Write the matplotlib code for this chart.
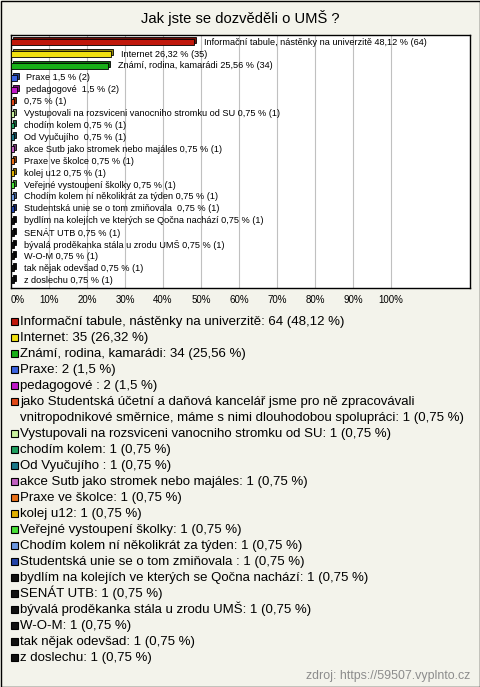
import matplotlib.pyplot as plt
from matplotlib.patches import Rectangle
import matplotlib.colors as mcolors
import numpy as np

plt.rcParams['font.family'] = ['Liberation Sans', 'DejaVu Sans']

# data
title = 'Jak jste se dozvěděli o UMŠ ?'
names = ['Informační tabule, nástěnky na univerzitě', 'Internet', 'Známí, rodina, kamarádi',
         'Praxe', 'pedagogové ',
         'jako Studentská účetní a daňová kancelář jsme pro ně zpracovávali\n'
         'vnitropodnikové směrnice, máme s nimi dlouhodobou spolupráci',
         'Vystupovali na rozsviceni vanocniho stromku od SU', 'chodím kolem', 'Od Vyučujího ',
         'akce Sutb jako stromek nebo majáles', 'Praxe ve školce', 'kolej u12',
         'Veřejné vystoupení školky', 'Chodím kolem ní několikrát za týden',
         'Studentská unie se o tom zmiňovala ', 'bydlím na kolejích ve kterých se Qočna nachází',
         'SENÁT UTB', 'bývalá proděkanka stála u zrodu UMŠ', 'W-O-M', 'tak nějak odevšad',
         'z doslechu']
# the chart leaves out the long name of item 6
chart_names = names[:5] + [''] + names[6:]
counts = [64, 35, 34, 2, 2] + [1] * 16
pcts = [48.12, 26.32, 25.56, 1.5, 1.5] + [0.75] * 16
colors = ['#c0180c', '#f0e010', '#18b018', '#3c64e0', '#c018c8', '#e04818', '#c8f09c',
          '#20a060', '#1c7888', '#c060c0', '#e87018', '#e0b000', '#48e038', '#6c98e0',
          '#2444a8'] + ['#101010'] * 6
ticks = [0, 10, 20, 30, 40, 50, 60, 70, 80, 90, 100]
source = 'zdroj: https://59507.vyplnto.cz'


def fmt(v):
    return ('%g' % v).replace('.', ',')


W, H = 480, 687
bg = '#f3f3eb'
fig = plt.figure(figsize=(W / 100, H / 100), dpi=100, facecolor=bg)

# overlay in pixel coordinates for title, legend and frame
lg = fig.add_axes([0, 0, 1, 1])
lg.set_xlim(0, W)
lg.set_ylim(H, 0)
lg.axis('off')
lg.add_patch(Rectangle((0.5, 0.5), W - 1, H - 1, fill=False, edgecolor='black', lw=1))
lg.text(W / 2, 18, title, ha='center', va='center', fontsize=10.6)

# bar chart
x0, x1, y0, y1 = 11, 470, 35, 288
ax = fig.add_axes([x0 / W, 1 - y1 / H, (x1 - x0) / W, (y1 - y0) / H])
ax.set_facecolor('white')
n = len(pcts)
y = np.arange(n)
xmax = (x1 - x0) / 3.8
ax.set_xlim(0, xmax)
ax.set_ylim(n - 0.35, -0.6)
ax.set_xticks(ticks)
ax.set_xticklabels(['%d%%' % t for t in ticks], fontsize=7)
ax.get_xticklabels()[0].set_horizontalalignment('left')
ax.tick_params(axis='x', length=0, pad=5)
ax.set_yticks([])
for t in ticks[1:]:
    ax.axvline(t, color='#c0c0c0', lw=0.8, zorder=0)
for s in ax.spines.values():
    s.set_linewidth(1)

dx, dy, h = 0.55, 0.17, 0.5
dark = [tuple(c * 0.6 for c in mcolors.to_rgb(c)) for c in colors]
ax.barh(y - dy, pcts, left=dx, height=h, color=dark, edgecolor='black', lw=0.6, zorder=2)
ax.barh(y, pcts, height=h, color=colors, edgecolor='black', lw=0.6, zorder=3)
for i in range(n):
    nm = chart_names[i]
    lab = (nm + ' ' if nm else '') + '%s %% (%d)' % (fmt(pcts[i]), counts[i])
    ax.annotate(lab, (pcts[i], y[i]), xytext=(7, 0), textcoords='offset points',
                va='center', ha='left', fontsize=6.6, zorder=4)

# legend
ly = 321
for i in range(n):
    lg.add_patch(Rectangle((11, ly - 3.5), 6.5, 7, facecolor=colors[i], edgecolor='black', lw=0.8))
    txt = names[i] + ': %d (%s %%)' % (counts[i], fmt(pcts[i]))
    for line in txt.split('\n'):
        lg.text(20, ly + 4.5, line, va='baseline', ha='left', fontsize=9.5)
        ly += 16

lg.text(470, 676, source, ha='right', va='center', fontsize=8.9, color='#8c8c8c')

fig.savefig('out.png', dpi=100, facecolor=bg)
